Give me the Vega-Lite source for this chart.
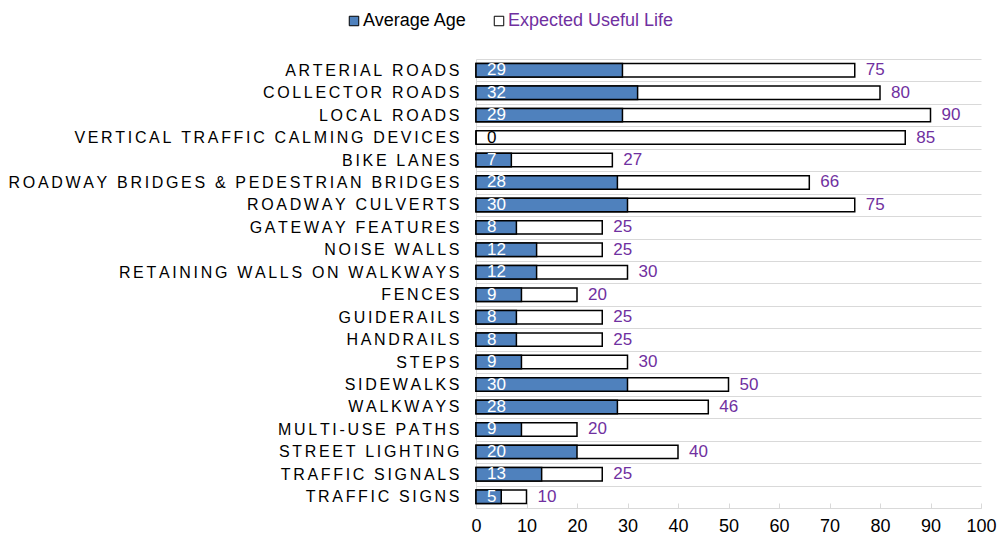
{
  "$schema": "https://vega.github.io/schema/vega-lite/v6.json",
  "width": 505,
  "height": 449,
  "autosize": "none",
  "padding": {"left": 476, "top": 59, "right": 21, "bottom": 34},
  "background": "white",
  "config": {
    "font": "Liberation Sans",
    "view": {"stroke": null}
  },
  "data": {
    "values": [
      {"Asset": "ARTERIAL ROADS", "Age": 29, "Life": 75},
      {"Asset": "COLLECTOR ROADS", "Age": 32, "Life": 80},
      {"Asset": "LOCAL ROADS", "Age": 29, "Life": 90},
      {"Asset": "VERTICAL TRAFFIC CALMING DEVICES", "Age": 0, "Life": 85},
      {"Asset": "BIKE LANES", "Age": 7, "Life": 27},
      {"Asset": "ROADWAY BRIDGES & PEDESTRIAN BRIDGES", "Age": 28, "Life": 66},
      {"Asset": "ROADWAY CULVERTS", "Age": 30, "Life": 75},
      {"Asset": "GATEWAY FEATURES", "Age": 8, "Life": 25},
      {"Asset": "NOISE WALLS", "Age": 12, "Life": 25},
      {"Asset": "RETAINING WALLS ON WALKWAYS", "Age": 12, "Life": 30},
      {"Asset": "FENCES", "Age": 9, "Life": 20},
      {"Asset": "GUIDERAILS", "Age": 8, "Life": 25},
      {"Asset": "HANDRAILS", "Age": 8, "Life": 25},
      {"Asset": "STEPS", "Age": 9, "Life": 30},
      {"Asset": "SIDEWALKS", "Age": 30, "Life": 50},
      {"Asset": "WALKWAYS", "Age": 28, "Life": 46},
      {"Asset": "MULTI-USE PATHS", "Age": 9, "Life": 20},
      {"Asset": "STREET LIGHTING", "Age": 20, "Life": 40},
      {"Asset": "TRAFFIC SIGNALS", "Age": 13, "Life": 25},
      {"Asset": "TRAFFIC SIGNS", "Age": 5, "Life": 10}
    ]
  },
  "encoding": {
    "y": {
      "field": "Asset",
      "type": "nominal",
      "sort": null,
      "title": null,
      "scale": {"paddingInner": 0, "paddingOuter": 0},
      "axis": {
        "grid": true,
        "gridColor": "#d9d9d9",
        "gridWidth": 1,
        "tickBand": "extent",
        "ticks": false,
        "domain": true,
        "domainColor": "#d9d9d9",
        "labelFontSize": 16,
        "labelColor": "#000000",
        "labelPadding": 17,
        "labelLimit": 800,
        "labelExpr": "join(split(datum.label, ''), '\u200a\u200a')"
      }
    }
  },
  "layer": [
    {
      "mark": {"type": "bar", "height": {"band": 0.6}, "stroke": "#000000", "strokeWidth": 1.5},
      "encoding": {
        "x": {
          "field": "Life",
          "type": "quantitative",
          "title": null,
          "scale": {"domain": [0, 100], "nice": false},
          "axis": {
            "values": [0, 10, 20, 30, 40, 50, 60, 70, 80, 90, 100],
            "grid": false,
            "domainColor": "#d9d9d9",
            "tickColor": "#d9d9d9",
            "tickSize": -5,
            "labelFlush": false,
            "labelFontSize": 18,
            "labelColor": "#000000",
            "labelPadding": 14
          }
        },
        "color": {
          "datum": "Expected Useful Life",
          "scale": {
            "domain": ["Average Age", "Expected Useful Life"],
            "range": ["#4F81BD", "#FFFFFF"]
          },
          "legend": {
            "title": null,
            "orient": "none",
            "direction": "horizontal",
            "legendX": -131,
            "legendY": -47,
            "symbolType": "square",
            "symbolSize": 90,
            "symbolStrokeColor": "#000000",
            "symbolStrokeWidth": 1,
            "labelFontSize": 18,
            "labelOffset": 0,
            "labelLimit": 400,
            "columnPadding": 23,
            "labelColor": {"expr": "datum.label == 'Expected Useful Life' ? '#7030A0' : '#000000'"}
          }
        }
      }
    },
    {
      "mark": {"type": "bar", "height": {"band": 0.6}, "stroke": "#000000", "strokeWidth": 1.5},
      "encoding": {
        "x": {"field": "Age", "type": "quantitative"},
        "color": {"datum": "Average Age"}
      }
    },
    {
      "mark": {"type": "text", "align": "left", "baseline": "middle", "dx": 11, "fontSize": 17},
      "encoding": {
        "x": {"datum": 0},
        "text": {"field": "Age", "type": "quantitative"},
        "color": {
          "condition": {"test": "datum.Age == 0", "value": "#000000"},
          "value": "#FFFFFF"
        }
      }
    },
    {
      "mark": {"type": "text", "align": "left", "baseline": "middle", "dx": 11, "fontSize": 17, "fill": "#7030A0"},
      "encoding": {
        "x": {"field": "Life", "type": "quantitative"},
        "text": {"field": "Life", "type": "quantitative"}
      }
    }
  ]
}
